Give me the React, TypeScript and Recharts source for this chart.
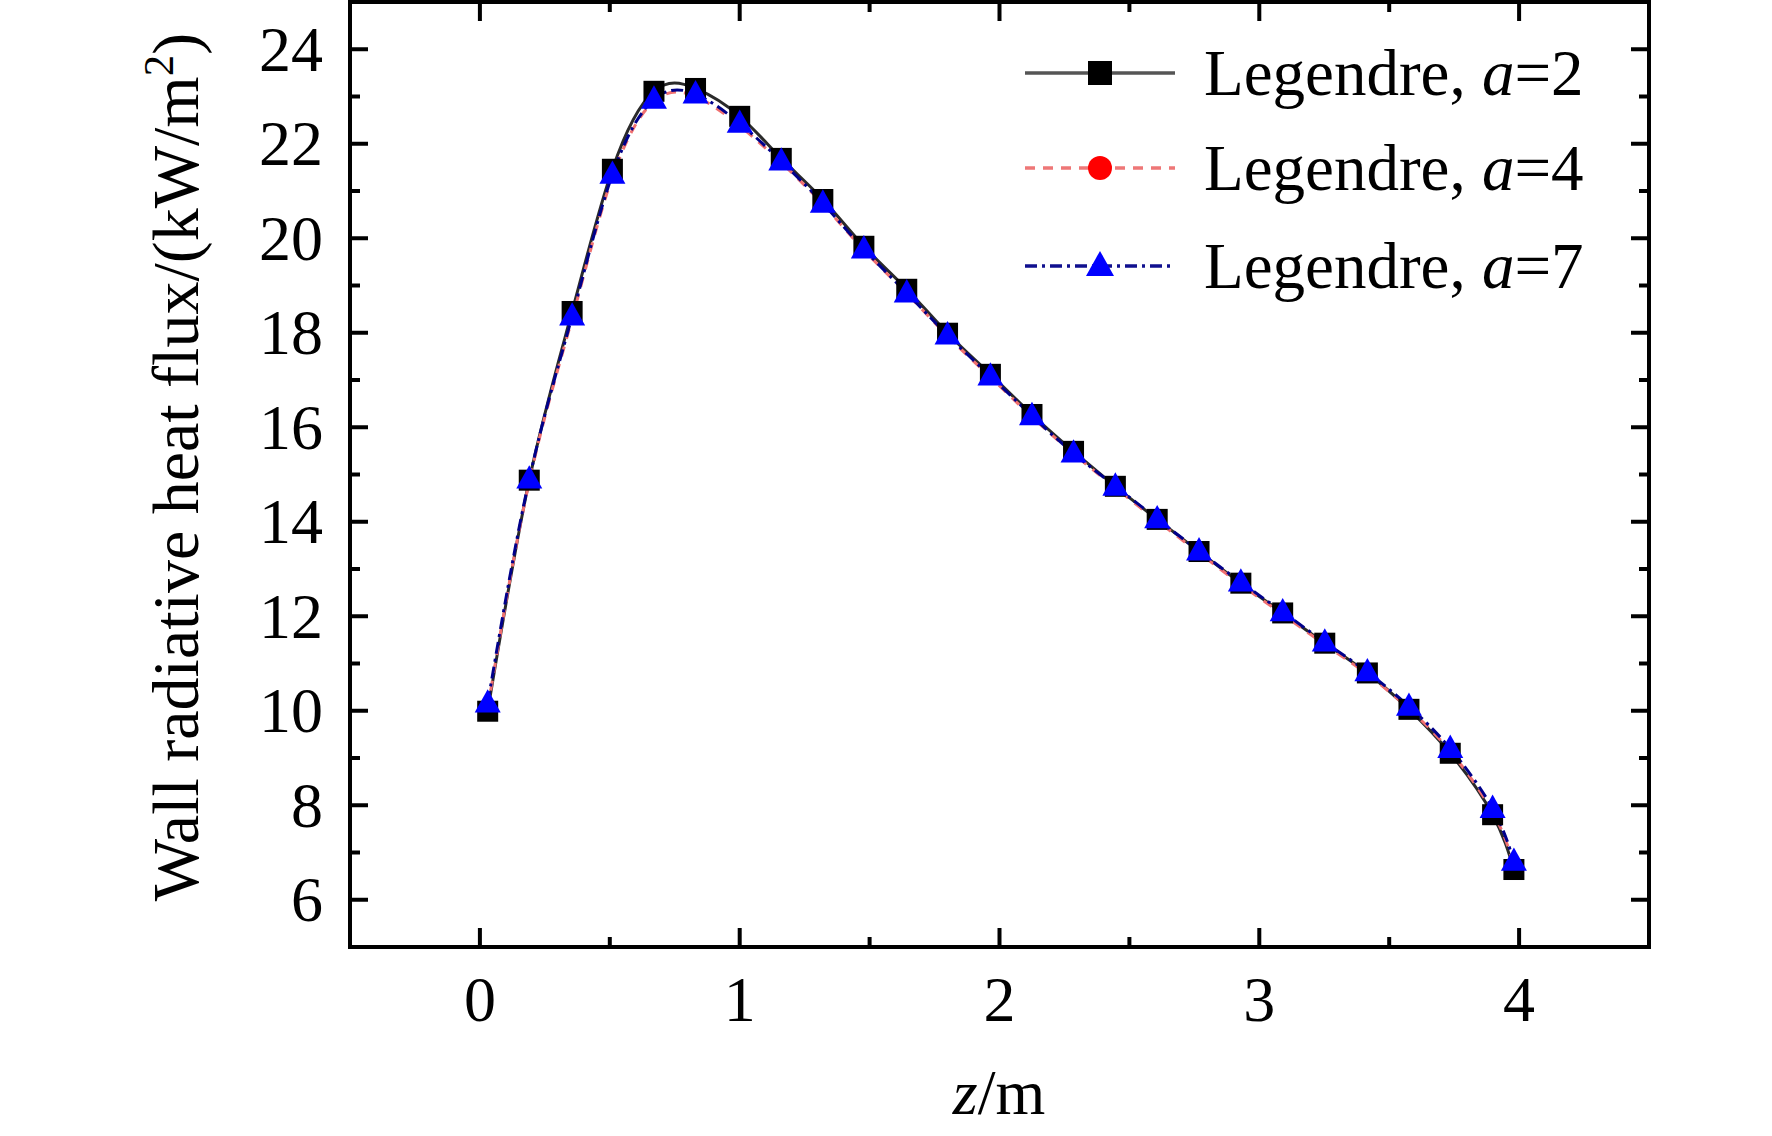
import React from 'react';
import { LineChart, Line, XAxis, YAxis, Legend, ReferenceArea } from 'recharts';

// axial position along the furnace, m
const zValues = [
  0.03, 0.19, 0.355, 0.51, 0.67, 0.83, 1.0, 1.16, 1.32, 1.478, 1.643, 1.8, 1.965,
  2.125, 2.285, 2.446, 2.607, 2.768, 2.929, 3.09, 3.252, 3.416, 3.576, 3.735, 3.898, 3.98,
];

// wall radiative heat flux, kW/m2
const fluxA2 = [
  9.99, 14.88, 18.45, 21.46, 23.11, 23.17, 22.58, 21.69, 20.82, 19.83, 18.92, 17.99, 17.12,
  16.27, 15.49, 14.75, 14.05, 13.37, 12.7, 12.07, 11.43, 10.8, 10.03, 9.1, 7.8, 6.64,
];
const fluxA4 = [
  10.05, 14.85, 18.3, 21.3, 22.9, 23.0, 22.38, 21.6, 20.72, 19.75, 18.83, 17.93, 17.06,
  16.22, 15.44, 14.72, 14.02, 13.34, 12.67, 12.04, 11.4, 10.77, 10.04, 9.14, 7.86, 6.74,
];
const fluxA7 = [
  10.16, 14.9, 18.35, 21.35, 22.94, 23.05, 22.43, 21.63, 20.74, 19.77, 18.84, 17.95, 17.08,
  16.24, 15.45, 14.75, 14.06, 13.38, 12.72, 12.09, 11.45, 10.82, 10.09, 9.2, 7.93, 6.81,
];

const seriesOrders = ['2', '4', '7'];

const xTicks = [-0.5, 0, 0.5, 1, 1.5, 2, 2.5, 3, 3.5, 4, 4.5];
const yTicks = [5, 6, 7, 8, 9, 10, 11, 12, 13, 14, 15, 16, 17, 18, 19, 20, 21, 22, 23, 24, 25];

const W = 1772;
const H = 1136;
const PLOT_LEFT = 350;
const PLOT_RIGHT = 1649;
const PLOT_TOP = 2;
const PLOT_BOTTOM = 947;
const FONT = '"Liberation Serif", "Times New Roman", serif';

const data = zValues.map((z, i) => ({ z, a2: fluxA2[i], a4: fluxA4[i], a7: fluxA7[i] }));

const Square = ({ cx, cy, size = 21 }: any) =>
  cx == null ? null : <rect x={cx - size / 2} y={cy - size / 2} width={size} height={size} fill="#000" />;
const Circle = ({ cx, cy, r = 11 }: any) =>
  cx == null ? null : <circle cx={cx} cy={cy} r={r} fill="#ff0000" />;
const Triangle = ({ cx, cy, w = 26 }: any) => {
  if (cx == null) return null;
  const h = w * 0.9;
  return (
    <polygon
      points={`${cx},${cy - h * 0.6} ${cx - w / 2},${cy + h * 0.4} ${cx + w / 2},${cy + h * 0.4}`}
      fill="#0000ff"
    />
  );
};

const series = [
  { key: 'a2', stroke: '#2a2a2a', legendStroke: '#555', dash: undefined, dot: Square },
  { key: 'a4', stroke: '#f07070', legendStroke: '#ee7777', dash: '10 8', dot: Circle },
  { key: 'a7', stroke: '#00008b', legendStroke: '#10108f', dash: '12 5 3 5', dot: Triangle },
];

function XTick(props: any) {
  const { x, payload } = props;
  const v = payload.value;
  if (v <= -0.5 || v >= 4.5) return <g />;
  const major = Number.isInteger(v);
  const len = major ? 19 : 10;
  return (
    <g>
      <line x1={x} x2={x} y1={PLOT_BOTTOM} y2={PLOT_BOTTOM - len} stroke="#000" strokeWidth={4} />
      <line x1={x} x2={x} y1={PLOT_TOP} y2={PLOT_TOP + len} stroke="#000" strokeWidth={4} />
      {major && (
        <text x={x} y={PLOT_BOTTOM + 74} textAnchor="middle" fontSize={64} fontFamily={FONT} fill="#000">
          {v}
        </text>
      )}
    </g>
  );
}

function YTick(props: any) {
  const { y, payload } = props;
  const v = payload.value;
  if (v <= 5 || v >= 25) return <g />;
  const major = v % 2 === 0;
  const len = major ? 18 : 10;
  return (
    <g>
      <line x1={PLOT_LEFT} x2={PLOT_LEFT + len} y1={y} y2={y} stroke="#000" strokeWidth={4} />
      <line x1={PLOT_RIGHT} x2={PLOT_RIGHT - len} y1={y} y2={y} stroke="#000" strokeWidth={4} />
      {major && (
        <text x={323} y={y} textAnchor="end" dominantBaseline="central" fontSize={64} fontFamily={FONT} fill="#000">
          {v}
        </text>
      )}
    </g>
  );
}

function LegendBox() {
  const rowY = [73, 168, 266];
  return (
    <svg width={440} height={300} style={{ overflow: 'visible' }}>
      {series.map((s, i) => {
        const Dot = s.dot;
        const y = rowY[i];
        return (
          <g key={s.key}>
            <line x1={5} x2={155} y1={y} y2={y} stroke={s.legendStroke} strokeWidth={3.5} strokeDasharray={s.dash} />
            <Dot cx={80} cy={y} size={24} r={12} w={28} />
            <text x={184} y={y + 22} fontSize={65} fontFamily={FONT} fill="#000">
              Legendre, <tspan fontStyle="italic">a</tspan>={seriesOrders[i]}
            </text>
          </g>
        );
      })}
    </svg>
  );
}

export default function App() {
  return (
    <div style={{ position: 'absolute', left: 0, top: 0, width: W, height: H, background: '#fff' }}>
      <LineChart
        width={W}
        height={H}
        data={data}
        margin={{ top: PLOT_TOP, right: W - PLOT_RIGHT, left: 0, bottom: 0 }}
      >
        <XAxis
          type="number"
          dataKey="z"
          domain={[-0.5, 4.5]}
          ticks={xTicks}
          interval={0}
          allowDataOverflow
          height={H - PLOT_BOTTOM}
          axisLine={false}
          tickLine={false}
          tick={<XTick />}
        />
        <YAxis
          type="number"
          domain={[5, 25]}
          ticks={yTicks}
          interval={0}
          allowDataOverflow
          width={PLOT_LEFT}
          axisLine={false}
          tickLine={false}
          tick={<YTick />}
        />
        <ReferenceArea x1={-0.5} x2={4.5} y1={5} y2={25} fill="none" fillOpacity={0} stroke="#000" strokeWidth={4} />
        {series.map((s) => (
          <Line
            key={s.key}
            type="natural"
            dataKey={s.key}
            stroke={s.stroke}
            strokeWidth={3}
            strokeDasharray={s.dash}
            dot={<s.dot />}
            activeDot={false}
            isAnimationActive={false}
          />
        ))}
        <Legend
          layout="vertical"
          align="center"
          verticalAlign="middle"
          wrapperStyle={{ left: 1020, top: 0, width: 440, height: 300 }}
          content={() => <LegendBox />}
        />
      </LineChart>
      <svg width={W} height={H} style={{ position: 'absolute', left: 0, top: 0, pointerEvents: 'none' }}>
        <text
          transform="translate(198, 467) rotate(-90)"
          textAnchor="middle"
          fontSize={66}
          fontFamily={FONT}
          fill="#000"
        >
          Wall radiative heat flux/(kW/m<tspan dy={-25} fontSize={43}>2</tspan>
          <tspan dy={25}>)</tspan>
        </text>
        <text x={999} y={1114} textAnchor="middle" fontSize={64} fontFamily={FONT} fill="#000">
          <tspan fontStyle="italic">z</tspan>/m
        </text>
      </svg>
    </div>
  );
}
